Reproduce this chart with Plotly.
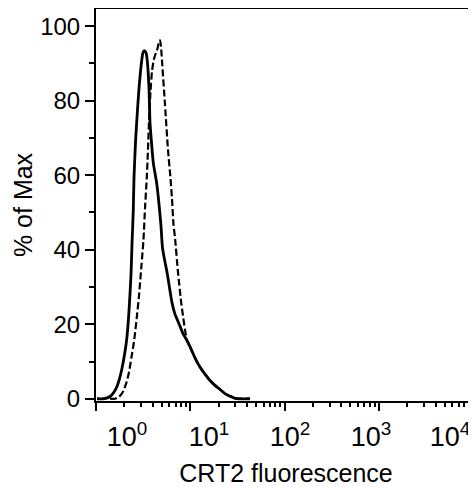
import plotly.graph_objects as go

# ---- data ----
solid_x = [1.025, 1.186, 1.340, 1.478, 1.630, 1.754, 1.887, 2.030, 2.132, 2.239,
           2.350, 2.408, 2.486, 2.528, 2.624, 2.702, 2.858, 3.052, 3.150, 3.252,
           3.390, 3.499, 3.648, 3.738, 3.877, 4.052, 4.403, 4.656, 4.890, 5.073,
           5.392, 5.661, 6.091, 6.396, 6.881, 7.225, 7.776, 8.368, 9.226, 9.926,
           11.21, 12.67, 14.32, 16.18, 18.28, 20.65, 23.33, 26.36, 29.79, 33.65, 42.95]
solid_y = [0, 0, 0.3, 1.1, 2.7, 4.9, 8.2, 12.6, 16.7, 23.6,
           33.2, 41.4, 50.7, 59.2, 68.8, 74.2, 83.3, 90.7, 92.9, 93.4,
           92.9, 90.7, 83.3, 74.2, 68.8, 63.3, 57.8, 52.3, 46.3, 40.5,
           36.7, 34.0, 29.0, 25.8, 22.7, 21.4, 19.5, 17.5, 15.6, 14.0,
           11.0, 8.5, 6.6, 4.9, 3.6, 2.5, 1.4, 0.7, 0.1, 0, 0]

dashed_x = [1.408, 1.590, 1.754, 1.933, 2.106, 2.239, 2.379, 2.528, 2.702, 2.858,
            3.037, 3.189, 3.308, 3.474, 3.648, 3.784, 3.925, 4.121, 4.328, 4.489,
            4.656, 4.773, 4.890, 5.011, 5.392, 5.801, 6.166, 6.396, 6.634, 6.881,
            7.404, 7.968, 8.368, 8.784, 9.226, 9.926,
            11.21, 12.67, 14.32, 16.18, 18.28, 20.65, 23.33, 26.36, 29.79, 33.65, 42.95]
dashed_y = [0, 0, 0.5, 1.9, 4.4, 7.1, 11.2, 15.3, 21.6, 27.7,
            35.9, 42.7, 51.0, 60.5, 74.2, 82.5, 87.9, 91.2, 92.9, 94.0,
            95.9, 96.2, 94.5, 90.7, 78.9, 66.8, 59.2, 53.7, 46.8, 43.3,
            34.0, 26.3, 22.2, 18.6, 15.6, 14.0,
            11.0, 8.5, 6.6, 4.9, 3.6, 2.5, 1.4, 0.7, 0.1, 0, 0]

decade_ticks = [1, 10, 100, 1000, 10000]
minor_ticks = [m * d for d in [1, 10, 100, 1000] for m in range(2, 10)]
label_positions = [2.13, 15.8, 114.0, 824.0, 5675.0]
label_text = ["10<sup>0</sup>", "10<sup>1</sup>", "10<sup>2</sup>",
              "10<sup>3</sup>", "10<sup>4</sup>"]
y_ticks = [0, 20, 40, 60, 80, 100]
y_minor = [10, 30, 50, 70, 90]

FONT = "Arial, Liberation Sans, sans-serif"

fig = go.Figure()
fig.add_trace(go.Scatter(x=solid_x, y=solid_y, mode="lines",
                         line=dict(color="black", width=2.8, shape="spline", smoothing=0.6),
                         showlegend=False, hoverinfo="skip"))
fig.add_trace(go.Scatter(x=dashed_x, y=dashed_y, mode="lines", xaxis="x2",
                         line=dict(color="black", width=2.2, dash="7px,3px",
                                   shape="spline", smoothing=0.6),
                         showlegend=False, hoverinfo="skip"))

xr = [0, 4.03]
# the page body has an 8px margin, so the figure is sized/offset to compensate
fig.update_layout(
    width=468, height=479,
    margin=dict(l=88, r=0, t=1, b=86, autoexpand=False),
    paper_bgcolor="white", plot_bgcolor="white",
    font=dict(family=FONT, color="black"),
    xaxis=dict(type="log", range=xr, showline=True, linewidth=2, linecolor="black",
               mirror=True, ticks="outside", tickvals=decade_ticks, ticklen=8,
               tickwidth=2, tickcolor="black", showticklabels=False,
               showgrid=False, zeroline=False, automargin=False,
               minor=dict(tickvals=minor_ticks, ticks="outside", ticklen=4,
                          tickwidth=1.5, tickcolor="black", showgrid=False),
               title=dict(text="CRT2 fluorescence", font=dict(size=25), standoff=59)),
    xaxis2=dict(type="log", range=xr, overlaying="x", anchor="y", side="bottom",
                tickvals=label_positions, ticktext=label_text, ticks="",
                showline=False, showgrid=False, zeroline=False, automargin=False,
                tickfont=dict(size=27), ticklabelstandoff=17),
    yaxis=dict(range=[-0.6, 104.6], showline=True, linewidth=2, linecolor="black",
               ticks="outside", tickvals=y_ticks, ticklen=9, tickwidth=2,
               tickcolor="black", showgrid=False, zeroline=False, automargin=False,
               tickfont=dict(size=24),
               minor=dict(tickvals=y_minor, ticks="outside", ticklen=5,
                          tickwidth=1.5, tickcolor="black", showgrid=False),
               title=dict(text="% of Max", font=dict(size=25), standoff=0)),
)

fig.write_html("out.html")
